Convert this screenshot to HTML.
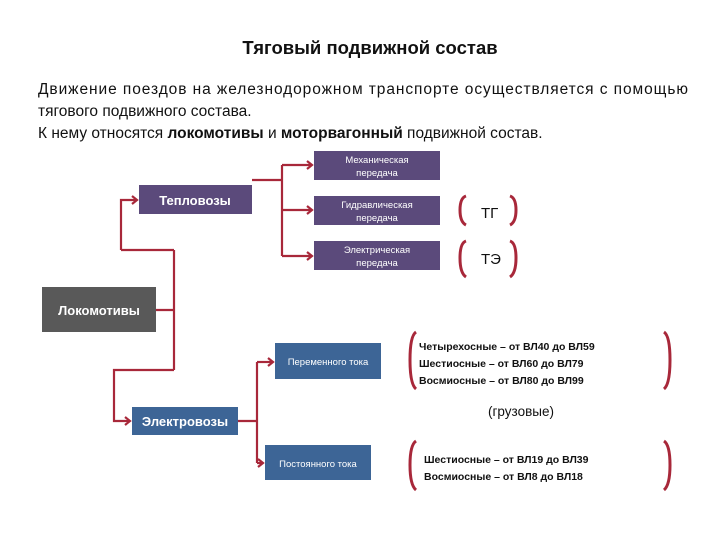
<!DOCTYPE html>
<html><head><meta charset="utf-8"><style>
body{margin:0;width:720px;height:540px;background:#fff;overflow:hidden;font-family:"Liberation Sans","DejaVu Sans",sans-serif;}
</style></head><body>
<svg width="720" height="540" xmlns="http://www.w3.org/2000/svg" font-family="Liberation Sans, DejaVu Sans, sans-serif">
<text x="370" y="54" text-anchor="middle" font-size="18.5" font-weight="bold" fill="#111">Тяговый подвижной состав</text>
<text x="38" y="94" font-size="15.5" fill="#111" textLength="650" lengthAdjust="spacing">Движение поездов на железнодорожном транспорте осуществляется с помощью</text>
<text x="38" y="116" font-size="15.5" fill="#111">тягового подвижного состава.</text>
<text x="38" y="138" font-size="15.5" fill="#111">К нему относятся <tspan font-weight="bold">локомотивы</tspan> и <tspan font-weight="bold">моторвагонный</tspan> подвижной состав.</text>

<g stroke="#a8283a" stroke-width="2.2" fill="none">
<polyline points="156,310 174,310"/>
<polyline points="174,250 174,370"/>
<polyline points="121,250 174,250"/>
<polyline points="121,250 121,200 137,200"/>
<polyline points="174,370 114,370 114,421 130,421"/>
<polyline points="252,180 282,180"/>
<polyline points="282,165 282,256"/>
<polyline points="282,165 312,165"/>
<polyline points="282,210 312,210"/>
<polyline points="282,256 312,256"/>
<polyline points="238,421 257,421"/>
<polyline points="257,362 257,463"/>
<polyline points="257,362 273,362"/>
<polyline points="257,463 263,463"/>
<polyline points="132,196 137,200 132,204"/>
<polyline points="125,417 130,421 125,425"/>
<polyline points="307,161 312,165 307,169"/>
<polyline points="307,206 312,210 307,214"/>
<polyline points="307,252 312,256 307,260"/>
<polyline points="268,358 273,362 268,366"/>
<polyline points="258,459 263,463 258,467"/>
<path d="M466,196 Q460,198 460,210 Q460,222 466,225" stroke-width="3"/>
<path d="M510,196 Q516,198 516,210 Q516,222 510,225" stroke-width="3"/>
<path d="M466,241 Q460,243 460,258 Q460,273 466,277" stroke-width="3"/>
<path d="M510,241 Q516,243 516,258 Q516,273 510,277" stroke-width="3"/>
<path d="M416,332 Q410,336 410,360 Q410,384 416,389" stroke-width="3"/>
<path d="M664,332 Q670,336 670,360 Q670,384 664,389" stroke-width="3"/>
<path d="M416,441 Q410,445 410,465 Q410,485 416,490" stroke-width="3"/>
<path d="M664,441 Q670,445 670,465 Q670,485 664,490" stroke-width="3"/>
</g>

<rect x="139" y="185" width="113" height="29" fill="#5b4a7b"/>
<text x="195" y="205" text-anchor="middle" font-size="13" font-weight="bold" fill="#fff">Тепловозы</text>
<rect x="314" y="151" width="126" height="29" fill="#5b4a7b"/>
<text x="377" y="163" text-anchor="middle" font-size="9.5" fill="#fff">Механическая</text>
<text x="377" y="176" text-anchor="middle" font-size="9.5" fill="#fff">передача</text>
<rect x="314" y="196" width="126" height="29" fill="#5b4a7b"/>
<text x="377" y="208" text-anchor="middle" font-size="9.5" fill="#fff">Гидравлическая</text>
<text x="377" y="221" text-anchor="middle" font-size="9.5" fill="#fff">передача</text>
<rect x="314" y="241" width="126" height="29" fill="#5b4a7b"/>
<text x="377" y="253" text-anchor="middle" font-size="9.5" fill="#fff">Электрическая</text>
<text x="377" y="266" text-anchor="middle" font-size="9.5" fill="#fff">передача</text>

<rect x="42" y="287" width="114" height="45" fill="#595959"/>
<text x="99" y="315" text-anchor="middle" font-size="13" font-weight="bold" fill="#fff">Локомотивы</text>

<rect x="132" y="407" width="106" height="28" fill="#3d6596"/>
<text x="185" y="426" text-anchor="middle" font-size="13" font-weight="bold" fill="#fff">Электровозы</text>
<rect x="275" y="343" width="106" height="36" fill="#3d6596"/>
<text x="328" y="365" text-anchor="middle" font-size="9.5" fill="#fff">Переменного тока</text>
<rect x="265" y="445" width="106" height="35" fill="#3d6596"/>
<text x="318" y="467" text-anchor="middle" font-size="9.5" fill="#fff">Постоянного тока</text>

<text x="481" y="218" font-size="15" fill="#111">ТГ</text>
<text x="481" y="264" font-size="15" fill="#111">ТЭ</text>

<g font-size="10.5" font-weight="bold" fill="#111">
<text x="419" y="350">Четырехосные – от ВЛ40 до ВЛ59</text>
<text x="419" y="367">Шестиосные – от ВЛ60 до ВЛ79</text>
<text x="419" y="384">Восмиосные – от ВЛ80 до ВЛ99</text>
<text x="424" y="463">Шестиосные – от ВЛ19 до ВЛ39</text>
<text x="424" y="480">Восмиосные – от ВЛ8 до ВЛ18</text>
</g>
<text x="488" y="416" font-size="13.5" fill="#111">(грузовые)</text>
</svg>
</body></html>
